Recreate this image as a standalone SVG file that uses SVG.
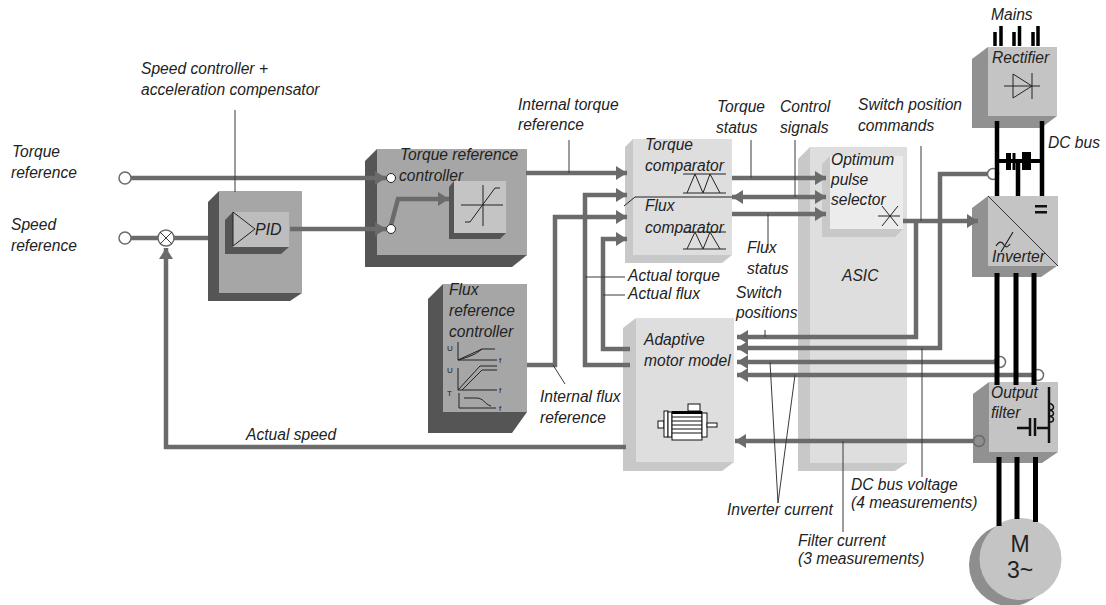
<svg xmlns="http://www.w3.org/2000/svg" width="1106" height="605" viewBox="0 0 1106 605">
<style>
text{font-family:"Liberation Sans",Arial,sans-serif;font-size:15.6px;font-style:italic;fill:#222}
.dk{fill:#555}.md{fill:#a6a6a6}.ln{fill:none;stroke:#222;stroke-width:1}
.g1{fill:#c8c8c8}.g2{fill:#dedede}.g3{fill:#c4c4c4}.g4{fill:#919191}.g5{fill:#bdbdbd}
.c{fill:none;stroke:#6b6b6b;stroke-width:4.5}
.t{fill:none;stroke:#3a3a3a;stroke-width:1}
.b{fill:none;stroke:#000;stroke-width:5}
.p{fill:#fff;stroke:#6b6b6b;stroke-width:1.5}
.s{font-size:8px;font-style:normal}
</style>
<defs>
<marker id="a" markerUnits="userSpaceOnUse" markerWidth="12" markerHeight="14" refX="11" refY="7" orient="auto-start-reverse"><path d="M0,0L11,7L0,14Z" fill="#6b6b6b"/></marker>
</defs>
<rect width="1106" height="605" fill="#fff"/>

<g id="pid">
<path class="dk" d="M208,202L219,191H302V293L290,301H208Z"/>
<rect class="md" x="219" y="191" width="83" height="102"/>
<path class="dk" d="M225,220L233,212H289V247L281,254H225Z"/>
<rect class="g5" x="233" y="212" width="56" height="35"/>
<path class="ln" d="M233,212V246L255,229Z"/>
<text x="255" y="235" style="font-size:16px">PID</text>
</g>

<g id="torque-ref">
<path class="dk" d="M365,161L377,149H527V255L512,267H365Z"/>
<rect class="md" x="377" y="149" width="150" height="106"/>
<path class="dk" d="M449,187L454,181H506V233L500,239H449Z"/>
<rect class="g3" x="454" y="181" width="52" height="52"/>
<path class="ln" d="M461,205H503M483,185V226M465,222H470L495,188H500"/>
<text x="400" y="160">Torque reference</text>
<text x="399" y="181">controller</text>
</g>

<g id="flux-ref">
<path class="dk" d="M428,299L443,284H527V412L512,433H428Z"/>
<rect class="md" x="443" y="284" width="84" height="128"/>
<path class="ln" d="M458,342V360H497M458,360L482,349H495M458,360C472,356 476,354 482,349M458,368V390H497M458,390L480,366H497M462,390L482,370H497M459,393V408H496M464,398H476C484,398 484,404 491,406"/>
<text x="449" y="295">Flux</text>
<text x="449" y="316">reference</text>
<text x="449" y="337">controller</text>
<text class="s" x="447" y="351">U</text>
<text class="s" x="447" y="373">U</text>
<text class="s" x="447" y="396">T</text>
<text class="s" x="499" y="363">f</text>
<text class="s" x="499" y="393">f</text>
<text class="s" x="499" y="411">f</text>
</g>

<g id="comparators">
<path class="g1" d="M625,147L633,139H732V255L722,263H625Z"/>
<rect class="g2" x="633" y="139" width="99" height="116"/>
<path class="ln" d="M624,206L635,197H732"/>
<path class="ln" d="M683,174H726M683,193H726M687,193L695,174L703,193L710,174L720,193"/>
<path class="ln" d="M683,232H726M683,249H726M687,249L695,232L703,249L710,232L720,249"/>
<text x="645" y="150">Torque</text>
<text x="645" y="171">comparator</text>
<text x="645" y="211">Flux</text>
<text x="645" y="233">comparator</text>
</g>

<g id="asic">
<path class="g1" d="M798,159L810,147H907V463L895,471H798Z"/>
<rect class="g2" x="810" y="147" width="97" height="316"/>
<text x="842" y="281">ASIC</text>
</g>

<g id="selector">
<path class="g1" d="M822,164L830,156H903V229L895,237H822Z"/>
<rect fill="#ececec" x="830" y="156" width="73" height="73"/>
<path class="ln" d="M878,216H900M882,206L898,226M898,206L882,226"/>
<text x="831" y="165">Optimum</text>
<text x="831" y="185">pulse</text>
<text x="831" y="205">selector</text>
</g>

<g id="motor-model">
<path class="g1" d="M623,328L636,318H734V462L722,471H623Z"/>
<rect class="g2" x="636" y="318" width="98" height="144"/>
<text x="644" y="345">Adaptive</text>
<text x="644" y="366">motor model</text>
<g fill="#fff" stroke="#111" stroke-width="1">
<rect x="688" y="404" width="12" height="7"/>
<rect x="658" y="421" width="6" height="7"/>
<rect x="664" y="411" width="4" height="26"/>
<rect x="668" y="412" width="4" height="25"/>
<rect x="672" y="412" width="30" height="28"/>
<rect x="702" y="413" width="5" height="24"/>
<rect x="707" y="423" width="10" height="4"/>
<path d="M672,417H702M672,421H702M672,425H702M672,429H702M672,433H702"/>
</g>
<rect x="672" y="411" width="30" height="3" fill="#000"/>
</g>

<g id="rectifier">
<path class="g4" d="M972,59L988,47H1057V116L1041,128H972Z"/>
<rect class="g3" x="988" y="47" width="69" height="69"/>
<path class="ln" d="M1013,74V98L1032,86ZM1032,73V99M1004,86H1040"/>
<text x="992" y="63">Rectifier</text>
</g>

<g id="inverter">
<path class="g4" d="M972,208L988,196H1057V266L1041,277H972Z"/>
<rect class="g3" x="988" y="196" width="70" height="70"/>
<path d="M988,196L1058,266" stroke="#333" fill="none"/>
<rect x="1035" y="205" width="12" height="2.500" fill="#111"/>
<rect x="1035" y="211" width="12" height="2.500" fill="#111"/>
<path d="M996,246C999,241 1002,241 1004,245C1006,248 1008,247 1010,244M1001,252L1013,232" fill="none" stroke="#222" stroke-width="1.200"/>
<text x="992" y="262">Inverter</text>
</g>

<g id="output-filter">
<path class="g4" d="M973,394L989,382H1058V452L1042,463H973Z"/>
<rect class="g3" x="989" y="382" width="69" height="70"/>
<path d="M1049,387V443M1017,428H1029M1037,428H1049M1030,418V436M1035,418V436" fill="none" stroke="#111" stroke-width="2.500"/>
<path d="M1049,403C1055,405 1055,410 1049,410C1055,411 1055,416 1049,416C1055,417 1055,422 1049,422" fill="none" stroke="#111" stroke-width="1.500"/>
<text x="991" y="398">Output</text>
<text x="991" y="418">filter</text>
</g>

<g id="motor">
<circle cx="1010" cy="565" r="41" fill="#8e8e8e"/>
<circle cx="1020.500" cy="559" r="41" fill="#c4c4c4"/>
<text x="1020" y="552" text-anchor="middle" style="font-size:23px;font-style:normal">M</text>
<text x="1020" y="578" text-anchor="middle" style="font-size:23px;font-style:normal">3~</text>
</g>

<g id="connectors">
<path class="c" d="M131,178H386" marker-end="url(#a)"/>
<path class="c" d="M131,238H158M174,238H208"/>
<path class="c" d="M290,229H386" marker-end="url(#a)"/>
<path class="c" d="M391,225L398,199H449" marker-end="url(#a)"/>
<path class="c" d="M526,173H627" marker-end="url(#a)"/>
<path class="c" d="M630,365H585V195H627" marker-end="url(#a)"/>
<path class="c" d="M527,365H555V217H627" marker-end="url(#a)"/>
<path class="c" d="M630,349H603V239H627" marker-end="url(#a)"/>
<path class="c" d="M732,178H826" marker-end="url(#a)"/>
<path class="c" d="M732,197H826" marker-start="url(#a)" marker-end="url(#a)"/>
<path class="c" d="M732,214H826" marker-end="url(#a)"/>
<path class="c" d="M903,221H978" marker-end="url(#a)"/>
<path class="c" d="M916,221V337H737" marker-end="url(#a)"/>
<path class="c" d="M988,174H940V348H737" marker-end="url(#a)"/>
<path class="c" d="M995,362H737" marker-end="url(#a)"/>
<path class="c" d="M1032,375H737" marker-end="url(#a)"/>
<path class="c" d="M973,441H735" marker-end="url(#a)"/>
<path class="c" d="M626,447H166V248" marker-end="url(#a)"/>
<circle cx="125" cy="178" r="6" class="p"/>
<circle cx="125" cy="238" r="6" class="p"/>
<circle cx="166" cy="238" r="8" class="p"/>
<path class="t" d="M160,232L172,244M172,232L160,244"/>
<circle cx="391" cy="178" r="4.500" fill="#fff" stroke="#222"/>
<circle cx="391" cy="229" r="4.500" fill="#fff" stroke="#222"/>
<circle cx="993" cy="174" r="5.500" class="p"/>
<circle cx="1000" cy="362" r="5.500" fill="none" stroke="#6b6b6b" stroke-width="1.500"/>
<circle cx="1038" cy="375" r="5.500" fill="none" stroke="#6b6b6b" stroke-width="1.500"/>
<circle cx="979" cy="441" r="5.500" fill="#8e8e8e" stroke="#6b6b6b" stroke-width="1.500"/>
<path class="b" d="M995,46V32M1001,46V26M1014,46V32M1019.500,46V26M1033,46V32M1038,46V26" style="stroke-width:3.500"/>
<path class="b" d="M997,121V196M1042,121V196M1018,161V196" style="stroke-width:4.500"/>
<path class="b" d="M997,161H1042" style="stroke-width:4"/>
<rect x="1006" y="153" width="5" height="17" fill="#000"/>
<rect x="1012.500" y="153" width="3" height="17" fill="#000"/>
<rect x="1022" y="152" width="9" height="18" fill="#000"/>
<path class="b" d="M997,273V385M1016,273V385M1034,273V385"/>
<path class="b" d="M999,457V526M1017,457V519M1035.500,457V522"/>
<path class="t" d="M235,110V192M569,140V173M751,140V178M795,140V197M768,214V250M921,146V221M765,330V337M585,277H625M603,295H625M553,365L565,384M922,348V477M843,441V532M770,362L778,503L795,375"/>
</g>

<g id="labels">
<text x="141" y="74">Speed controller +</text>
<text x="141" y="95">acceleration compensator</text>
<text x="12" y="157">Torque</text>
<text x="11" y="178">reference</text>
<text x="11" y="230">Speed</text>
<text x="11" y="251">reference</text>
<text x="518" y="110">Internal torque</text>
<text x="518" y="130">reference</text>
<text x="717" y="112">Torque</text>
<text x="716" y="133">status</text>
<text x="780" y="112">Control</text>
<text x="780" y="133">signals</text>
<text x="858" y="110">Switch position</text>
<text x="858" y="131">commands</text>
<text x="747" y="253">Flux</text>
<text x="747" y="274">status</text>
<text x="736" y="298">Switch</text>
<text x="736" y="318">positions</text>
<text x="628" y="281">Actual torque</text>
<text x="628" y="299">Actual flux</text>
<text x="540" y="402">Internal flux</text>
<text x="540" y="423">reference</text>
<text x="246" y="440">Actual speed</text>
<text x="727" y="515">Inverter current</text>
<text x="798" y="546">Filter current</text>
<text x="798" y="564">(3 measurements)</text>
<text x="851" y="490">DC bus voltage</text>
<text x="851" y="508">(4 measurements)</text>
<text x="1048" y="148">DC bus</text>
<text x="991" y="20">Mains</text>
</g>
</svg>
